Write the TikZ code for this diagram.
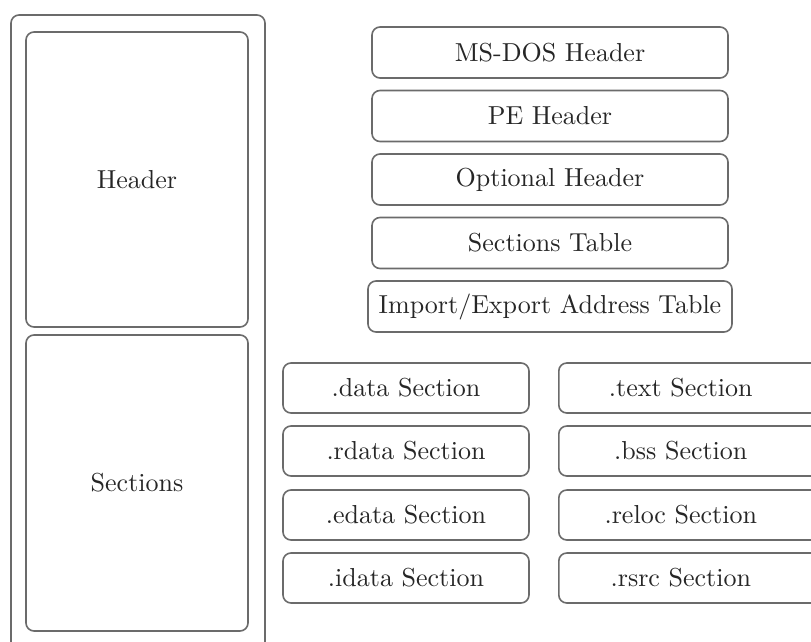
\documentclass[tikz,border=0pt]{standalone}
\usepackage{fontspec}
% the 10pt design of Latin Modern, scaled up
\setmainfont{lmroman10-regular}[Extension=.otf]
\begin{document}
\begin{tikzpicture}[x=1pt,y=-1pt,
  frame/.style={draw=black!58, line width=1.6pt, rounded corners=8pt, fill=white,
    inner sep=0pt, text=black!85, font=\fontsize{26}{30}\selectfont},
  part/.style={frame, minimum width=222pt, minimum height=295pt},
  hdr/.style={frame, minimum width=356pt, minimum height=51pt},
  sec/.style={frame, minimum width=246pt, minimum height=50pt},
  secwide/.style={frame, minimum height=50pt, text width=262pt, align=left, anchor=west}
]
\useasboundingbox (0,0) rectangle (811,642);
\clip (0,0) rectangle (811,642);

% whole file
\draw[frame] (11,15) rectangle (265,680);

% the two parts of the file
\node[part] (header) at (137,179.5) {Header};
\node[part, minimum height=296pt] (sections) at (137,483) {Sections};

% header structures
\node[hdr] (dos) at (550,52.5) {MS-DOS Header};
\node[hdr] (pe) at (550,116) {PE Header};
\node[hdr] (opt) at (550,179.5) {Optional Header};
\node[hdr] (stab) at (550,243) {Sections Table};
\node[hdr, minimum width=364pt] (iat) at (550,306.5) {Import/Export Address Table};

% sections, left column
\node[sec] (data) at (406,388) {.data Section};
\node[sec] (rdata) at (406,451) {.rdata Section};
\node[sec] (edata) at (406,515) {.edata Section};
\node[sec] (idata) at (406,578) {.idata Section};

% sections, right column
\node[secwide] (text) at (558,388) {\makebox[244pt]{.text Section}};
\node[secwide] (bss) at (558,451) {\makebox[244pt]{.bss Section}};
\node[secwide] (reloc) at (558,515) {\makebox[244pt]{.reloc Section}};
\node[secwide] (rsrc) at (558,578) {\makebox[244pt]{.rsrc Section}};
\end{tikzpicture}
\end{document}
